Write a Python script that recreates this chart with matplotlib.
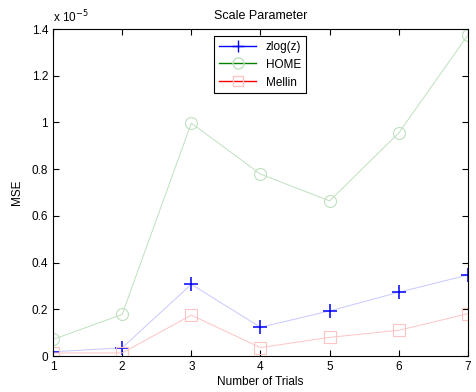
import matplotlib
matplotlib.use("Agg")
import matplotlib.pyplot as plt
from matplotlib.lines import Line2D
from matplotlib.ticker import FuncFormatter

plt.rcParams['font.family'] = ['Liberation Sans', 'DejaVu Sans']

trials = [1, 2, 3, 4, 5, 6, 7]
# MSE values in units of 1e-5
zlog = [0.018, 0.035, 0.307, 0.123, 0.193, 0.273, 0.347]
home = [0.071, 0.178, 0.997, 0.779, 0.664, 0.955, 1.374]
mellin = [0.013, 0.013, 0.175, 0.036, 0.080, 0.110, 0.181]

fig = plt.figure(figsize=(4.76, 3.92), dpi=100)
ax = fig.add_axes([0.1113, 0.0918, 0.8717, 0.8342])

ax.plot(trials, zlog, color='#c8c8ff', lw=0.7, marker='+', ms=9.5,
        mec='blue', mew=1.1)
ax.plot(trials, home, color='#bfe0bf', lw=0.7, marker='o', ms=8.6,
        mfc='none', mec='#bfe0bf', mew=0.8)
ax.plot(trials, mellin, color='#ffc4c4', lw=0.7, marker='s', ms=8,
        mfc='none', mec='#ffc4c4', mew=0.8)

ax.set_xlim(1, 7)
ax.set_ylim(0, 1.4)
ax.set_xticks(trials)
ax.set_yticks([0, 0.2, 0.4, 0.6, 0.8, 1.0, 1.2, 1.4])
ax.yaxis.set_major_formatter(FuncFormatter(lambda v, p: '%g' % round(v, 2)))
ax.tick_params(direction='in', top=True, right=True, labelsize=8.5,
               length=4, width=0.8)
for s in ax.spines.values():
    s.set_linewidth(0.8)

ax.set_title('Scale Parameter', fontsize=9, pad=7)
ax.set_xlabel('Number of Trials', fontsize=8.5, labelpad=2)
ax.set_ylabel('MSE', fontsize=8.5, labelpad=6)
ax.text(0.0, 1.012, r'x 10$^{-5}$', transform=ax.transAxes, fontsize=8.5,
        ha='left', va='bottom')

handles = [
    Line2D([], [], color='blue', lw=1, marker='+', ms=9, mec='blue'),
    Line2D([], [], color='green', lw=1, marker='o', ms=8, mfc='none',
           mec='#bfe0bf'),
    Line2D([], [], color='red', lw=1, marker='s', ms=7.5, mfc='none',
           mec='#ffc4c4'),
]
leg = ax.legend(handles, ['zlog(z)', 'HOME', 'Mellin'], loc='upper left',
                bbox_to_anchor=(0.388, 0.9786), borderaxespad=0,
                fontsize=8.5, fancybox=False, edgecolor='black',
                framealpha=1, handlelength=3.2, borderpad=0.4,
                labelspacing=0.5)
leg.get_frame().set_linewidth(0.8)

fig.savefig('out.png', dpi=100)
